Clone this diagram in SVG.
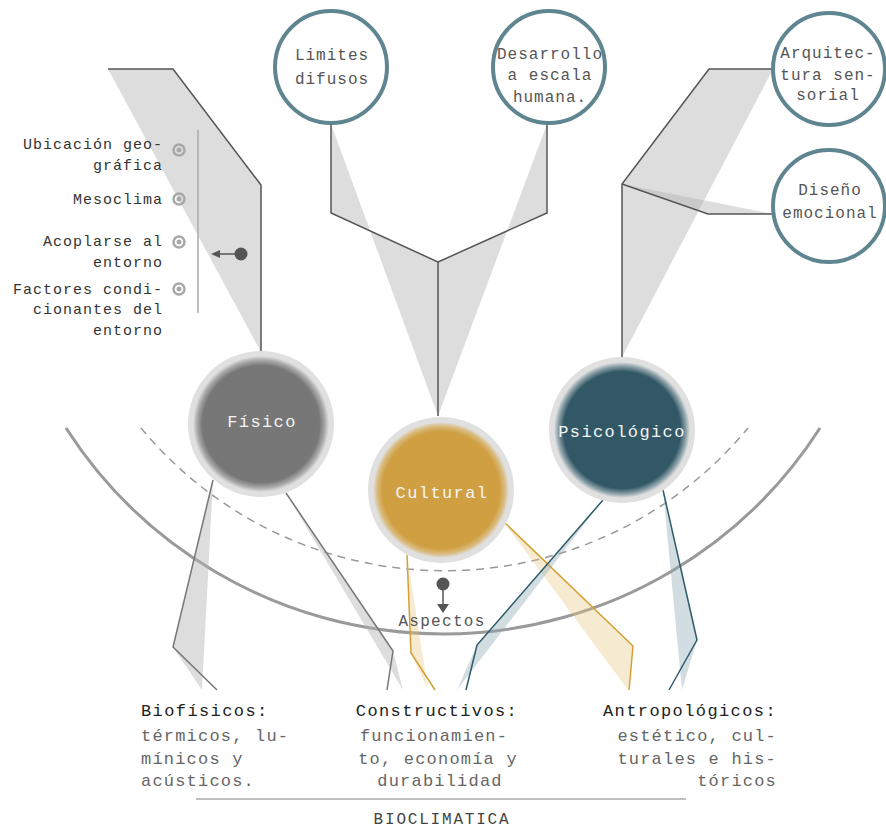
<svg xmlns="http://www.w3.org/2000/svg" width="886" height="829" viewBox="0 0 886 829">
<defs>
<style>
.t{font-family:"Liberation Mono","DejaVu Sans Mono",monospace;}
.lbl{font-size:15px;letter-spacing:1px;fill:#333;text-anchor:end;}
.top{font-size:16px;letter-spacing:1px;fill:#555;text-anchor:middle;}
.main{font-size:17px;letter-spacing:1.4px;fill:#f4f4f4;text-anchor:middle;}
.ttl{font-size:17px;letter-spacing:1.4px;fill:#222;}
.dsc{font-size:17px;letter-spacing:1.2px;fill:#666;}
.ln{fill:none;stroke:#555;stroke-width:1.5;}
.sh{fill:#b4b4b4;fill-opacity:0.45;stroke:none;}
.gl{fill:none;stroke:#d4a036;stroke-width:1.5;}
.gs{fill:#e6c27a;fill-opacity:0.35;stroke:none;}
.bl{fill:none;stroke:#2e5a6a;stroke-width:1.5;}
.bs{fill:#8fabb6;fill-opacity:0.4;stroke:none;}
.gy{fill:none;stroke:#777;stroke-width:1.5;}
.ring{fill:#fff;stroke:#5f8590;stroke-width:4;}
.bul{fill:none;stroke:#a8a8a8;stroke-width:2.5;}
.buld{fill:#a8a8a8;}
</style>
<radialGradient id="gF" cx="0.5" cy="0.5" r="0.5">
<stop offset="0.86" stop-color="#777"/>
<stop offset="0.94" stop-color="#a9a9a9"/>
<stop offset="1" stop-color="#e0e0e0"/>
</radialGradient>
<radialGradient id="gC" cx="0.5" cy="0.5" r="0.5">
<stop offset="0.86" stop-color="#cf9f42"/>
<stop offset="0.94" stop-color="#d9bb7e"/>
<stop offset="1" stop-color="#e0e0e0"/>
</radialGradient>
<radialGradient id="gP" cx="0.5" cy="0.5" r="0.5">
<stop offset="0.86" stop-color="#325866"/>
<stop offset="0.94" stop-color="#8a9fa7"/>
<stop offset="1" stop-color="#e0e0e0"/>
</radialGradient>
</defs>
<rect width="886" height="829" fill="#fff"/>

<g id="connectors">
<polygon class="sh" points="108,69 173,69 261,185 261,352"/>
<polyline class="ln" points="108,69 173,69 261,185 261,352"/>
<polygon class="sh" points="331,124 331,213 438,262 438,416"/>
<polygon class="sh" points="547,124 547,213 438,262 438,416"/>
<polyline class="ln" points="331,124 331,213 438,262 438,416"/>
<polyline class="ln" points="547,124 547,213 438,262"/>
<polygon class="sh" points="622,357 622,184 709,69 773,69"/>
<polygon class="sh" points="622,184 708,214 773,214"/>
<polyline class="ln" points="622,357 622,184 709,69 773,69"/>
<polyline class="ln" points="622,184 708,214 773,214"/>
<path d="M66,428 A448,448 0 0 0 820,428" fill="none" stroke="#9a9a9a" stroke-width="3"/>
<path d="M141,428 A394,394 0 0 0 748,428" fill="none" stroke="#999" stroke-width="1.5" stroke-dasharray="8,6"/>
<polygon class="sh" points="213,480 173,647 202,690"/>
<polyline class="gy" points="213,480 173,647 217,690"/>
<polygon class="sh" points="286,493 393,651 403,690"/>
<polyline class="gy" points="286,493 393,651 387,690"/>
<polygon class="gs" points="407,555 411,653 428,690"/>
<polyline class="gl" points="407,555 411,653 435,690"/>
<polygon class="gs" points="504,522 633,646 628,690"/>
<polyline class="gl" points="504,522 633,646 629,690"/>
<polygon class="bs" points="603,500 477,645 457,690"/>
<polyline class="bl" points="603,500 477,645 466,690"/>
<polygon class="bs" points="663,490 697,640 682,690"/>
<polyline class="bl" points="663,490 697,640 669,690"/>
<line x1="198" y1="130" x2="198" y2="313" stroke="#aaa" stroke-width="1.5"/>
<line x1="238" y1="254" x2="218" y2="254" stroke="#555" stroke-width="1.5"/>
<polygon points="211,254 220,250 220,258" fill="#555"/>
<circle cx="241" cy="254" r="6.5" fill="#555"/>
<circle cx="443" cy="584" r="6.5" fill="#555"/>
<line x1="443" y1="588" x2="443" y2="606" stroke="#555" stroke-width="1.5"/>
<polygon points="437,604 449,604 443,613" fill="#555"/>
<line x1="196" y1="799" x2="686" y2="799" stroke="#aaa" stroke-width="1.5"/>
</g>

<g id="n-limites">
<circle class="ring" cx="331" cy="67" r="56"/>
<text class="t top" x="332" y="60" font-size="17" letter-spacing="1.4">Limites</text>
<text class="t top" x="332" y="84" font-size="17" letter-spacing="1.4">difusos</text>
</g>
<g id="n-desarrollo">
<circle class="ring" cx="549" cy="67" r="56"/>
<text class="t top" x="550" y="59">Desarrollo</text>
<text class="t top" x="550" y="80">a escala</text>
<text class="t top" x="550" y="102">humana.</text>
</g>
<g id="n-arquitectura">
<circle class="ring" cx="829" cy="69" r="56"/>
<text class="t top" x="828" y="58" font-size="15" letter-spacing="0.4">Arquitec-</text>
<text class="t top" x="828" y="80" font-size="15" letter-spacing="0.4">tura sen-</text>
<text class="t top" x="828" y="100" font-size="15" letter-spacing="0.4">sorial</text>
</g>
<g id="n-diseno">
<circle class="ring" cx="829" cy="206" r="56"/>
<text class="t top" x="830" y="195" font-size="17" letter-spacing="1.4">Diseño</text>
<text class="t top" x="830" y="218" font-size="17" letter-spacing="1.4">emocional</text>
</g>

<g id="n-fisico">
<circle cx="261" cy="424" r="73" fill="#e0e0e0"/>
<circle cx="261" cy="424" r="68" fill="url(#gF)"/>
<text class="t main" x="262" y="427">Físico</text>
</g>
<g id="n-cultural">
<circle cx="441" cy="490" r="73" fill="#e0e0e0"/>
<circle cx="441" cy="490" r="68" fill="url(#gC)"/>
<text class="t main" x="442" y="498">Cultural</text>
</g>
<g id="n-psicologico">
<circle cx="622" cy="430" r="73" fill="#e0e0e0"/>
<circle cx="622" cy="430" r="68" fill="url(#gP)"/>
<text class="t main" x="622" y="437">Psicológico</text>
</g>

<g id="n-factores">
<circle class="bul" cx="179" cy="150" r="5.5"/><circle class="buld" cx="179" cy="150" r="2.5"/>
<circle class="bul" cx="179" cy="199" r="5.5"/><circle class="buld" cx="179" cy="199" r="2.5"/>
<circle class="bul" cx="179" cy="242" r="5.5"/><circle class="buld" cx="179" cy="242" r="2.5"/>
<circle class="bul" cx="179" cy="289" r="5.5"/><circle class="buld" cx="179" cy="289" r="2.5"/>
<text class="t lbl" x="163" y="149">Ubicación geo-</text>
<text class="t lbl" x="163" y="170">gráfica</text>
<text class="t lbl" x="163" y="204">Mesoclima</text>
<text class="t lbl" x="163" y="246">Acoplarse al</text>
<text class="t lbl" x="163" y="267">entorno</text>
<text class="t lbl" x="163" y="294">Factores condi-</text>
<text class="t lbl" x="163" y="314">cionantes del</text>
<text class="t lbl" x="163" y="335">entorno</text>
</g>

<g id="n-aspectos">
<text class="t" x="442" y="626" font-size="16" letter-spacing="1.3" fill="#555" text-anchor="middle">Aspectos</text>
</g>

<g id="n-biofisicos">
<text class="t ttl" x="141" y="716">Biofísicos:</text>
<text class="t dsc" x="141" y="741">térmicos, lu-</text>
<text class="t dsc" x="141" y="764">mínicos y</text>
<text class="t dsc" x="141" y="786">acústicos.</text>
</g>
<g id="n-constructivos">
<text class="t ttl" x="437" y="716" text-anchor="middle">Constructivos:</text>
<text class="t dsc" x="434" y="741" text-anchor="middle">funcionamien-</text>
<text class="t dsc" x="438" y="764" text-anchor="middle">to, economía y</text>
<text class="t dsc" x="440" y="786" text-anchor="middle">durabilidad</text>
</g>
<g id="n-antropologicos">
<text class="t ttl" x="777" y="716" text-anchor="end">Antropológicos:</text>
<text class="t dsc" x="777" y="741" text-anchor="end">estético, cul-</text>
<text class="t dsc" x="777" y="764" text-anchor="end">turales e his-</text>
<text class="t dsc" x="777" y="786" text-anchor="end">tóricos</text>
</g>
<g id="n-bioclimatica">
<text class="t" x="442" y="824" font-size="16" letter-spacing="1.8" fill="#444" text-anchor="middle">BIOCLIMATICA</text>
</g>
</svg>
